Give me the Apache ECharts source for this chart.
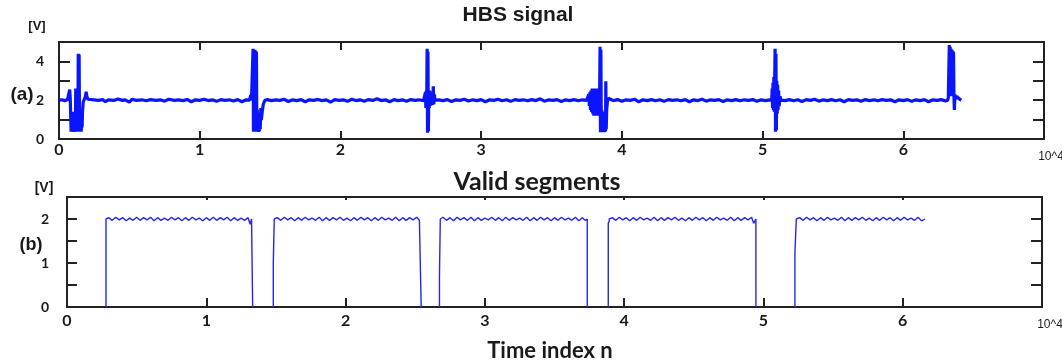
<!DOCTYPE html>
<html>
<head>
<meta charset="utf-8">
<script src="https://cdn.jsdelivr.net/npm/echarts@6/dist/echarts.min.js"></script>
<style>
html,body{margin:0;padding:0;background:#fff;}
#chart{width:1062px;height:364px;}
</style>
</head>
<body>
<div id="chart"></div>
<script>
// ---- Data (x in units of 10^4 samples, y in volts) ----
const xTickLabels = ['0','1','2','3','4','5','6'];
const xExponentLabel = '10^4';

// (a) HBS signal
const hbsSignal = [
  [0,2.0],[0.02,2.02],[0.04,1.98],[0.06,2.02],[0.07,2.0],
  [0.076,2.55],[0.080,2.1],[0.083,1.2],[0.086,0.37],[0.089,1.1],[0.092,0.37],[0.095,1.4],[0.098,0.37],[0.101,0.9],
  [0.104,0.37],[0.107,1.3],[0.110,0.37],[0.113,1.0],[0.116,0.37],[0.119,2.6],[0.122,0.37],[0.125,1.4],[0.128,0.37],
  [0.131,1.1],[0.134,0.37],[0.137,4.4],[0.140,0.4],[0.143,4.35],[0.146,0.37],[0.149,1.2],[0.152,0.37],[0.155,1.5],
  [0.158,0.37],[0.161,1.3],[0.164,0.6],[0.167,1.4],[0.172,1.9],[0.180,2.05],[0.188,2.2],[0.193,2.43],[0.198,2.2],
  [0.205,2.05],[0.215,2.0],
  [0.25,2.02],[0.28,1.99],[0.31,2.03],[0.33,1.92],[0.35,2.02],[0.39,1.99],[0.42,2.06],[0.45,1.99],[0.47,2.02],[0.50,1.9],
  [0.52,2.05],[0.55,1.99],[0.59,2.02],[0.62,1.97],[0.65,2.03],[0.69,1.99],[0.72,2.02],[0.75,1.95],[0.78,2.05],[0.82,1.99],
  [0.85,2.02],[0.88,1.98],[0.91,2.04],[0.94,1.92],[0.97,2.02],[1.00,1.99],[1.03,2.05],[1.06,1.98],[1.09,2.02],[1.12,1.94],
  [1.15,2.03],[1.18,1.99],[1.21,2.02],[1.24,1.96],[1.27,2.03],[1.30,1.92],[1.33,2.02],[1.355,2.0],
  [1.362,2.26],[1.368,2.0],[1.374,2.1],[1.379,4.65],[1.382,0.37],[1.385,4.6],[1.388,0.37],[1.391,4.6],[1.394,0.37],
  [1.397,4.55],[1.400,0.37],[1.403,4.5],[1.406,0.37],[1.409,1.5],[1.412,0.37],[1.415,1.0],[1.418,0.37],[1.421,1.3],
  [1.424,0.4],[1.427,0.9],[1.430,0.5],[1.434,1.6],[1.438,0.97],[1.444,1.4],[1.452,1.8],[1.464,2.0],[1.48,2.03],
  [1.51,1.98],[1.54,2.02],[1.57,1.99],[1.60,2.05],[1.63,1.93],[1.66,2.02],[1.69,1.98],[1.72,2.03],[1.75,1.92],[1.78,2.02],
  [1.81,1.99],[1.84,2.04],[1.87,1.98],[1.90,2.02],[1.93,1.9],[1.96,2.03],[1.99,1.99],[2.02,2.02],[2.05,1.94],[2.08,2.05],
  [2.11,1.98],[2.14,2.02],[2.17,1.95],[2.20,2.03],[2.23,1.99],[2.26,2.07],[2.29,1.98],[2.32,2.02],[2.35,1.92],[2.38,2.03],
  [2.41,1.98],[2.44,2.02],[2.47,1.95],[2.50,2.03],[2.53,1.99],[2.56,2.02],[2.59,1.97],[2.60,2.0],
  [2.604,2.4],[2.607,1.6],[2.610,2.5],[2.613,1.7],[2.616,4.65],[2.619,0.32],[2.622,4.5],[2.625,0.4],[2.628,2.4],
  [2.631,1.6],[2.634,2.5],[2.637,1.7],[2.641,2.3],[2.645,1.8],[2.650,2.4],[2.655,1.75],[2.660,2.72],[2.664,1.8],
  [2.668,2.3],[2.672,2.0],
  [2.70,2.02],[2.73,1.98],[2.76,2.03],[2.79,1.93],[2.82,2.02],[2.85,1.99],[2.88,2.05],[2.91,1.96],[2.94,2.02],[2.97,1.98],
  [3.00,2.03],[3.03,1.92],[3.06,2.02],[3.09,1.99],[3.12,2.05],[3.15,1.97],[3.18,2.02],[3.21,1.94],[3.24,2.03],[3.27,1.99],
  [3.30,2.02],[3.33,1.97],[3.36,2.03],[3.39,1.98],[3.42,2.07],[3.45,1.95],[3.48,2.02],[3.51,1.99],[3.54,2.03],[3.57,1.93],
  [3.60,2.02],[3.63,1.98],[3.66,2.03],[3.69,1.97],[3.72,2.02],[3.75,1.99],[3.76,2.0],
  [3.765,2.3],[3.769,1.7],[3.773,2.4],[3.777,1.5],[3.781,2.5],[3.785,1.4],[3.789,2.6],[3.793,1.3],[3.797,2.5],
  [3.801,1.2],[3.805,2.6],[3.809,1.25],[3.813,2.5],[3.817,1.2],[3.821,2.6],[3.825,1.3],[3.829,2.4],[3.833,1.2],
  [3.837,2.3],[3.841,1.5],[3.845,4.75],[3.848,0.35],[3.851,4.6],[3.854,0.35],[3.857,1.5],[3.860,0.35],[3.863,1.2],
  [3.866,0.35],[3.869,1.4],[3.872,0.35],[3.875,1.0],[3.878,0.35],[3.881,1.3],[3.884,0.4],[3.886,2.97],[3.889,0.5],
  [3.892,1.5],[3.897,1.9],[3.905,2.1],[3.916,2.0],
  [3.94,1.98],[3.97,2.03],[4.00,1.95],[4.03,2.02],[4.06,1.99],[4.09,2.05],[4.12,1.92],[4.15,2.02],[4.18,1.98],[4.21,2.03],
  [4.24,1.97],[4.27,2.02],[4.30,1.94],[4.33,2.03],[4.36,1.99],[4.39,2.02],[4.42,1.97],[4.45,2.03],[4.48,1.92],[4.51,2.02],
  [4.54,1.98],[4.57,2.05],[4.60,1.95],[4.63,2.02],[4.66,1.99],[4.69,2.03],[4.72,1.93],[4.75,2.02],[4.78,1.98],[4.81,2.03],
  [4.84,1.97],[4.87,2.02],[4.90,1.99],[4.93,2.03],[4.96,1.95],[4.99,2.02],[5.02,1.98],[5.05,2.02],[5.065,2.0],
  [5.068,2.6],[5.071,1.6],[5.074,2.9],[5.077,1.5],[5.080,3.2],[5.083,1.4],[5.086,3.0],[5.089,4.65],[5.092,0.37],
  [5.095,4.4],[5.098,0.45],[5.101,3.0],[5.104,1.3],[5.107,2.8],[5.110,1.5],[5.114,2.5],[5.118,1.7],[5.124,2.2],[5.13,2.0],
  [5.16,1.98],[5.19,2.03],[5.22,1.97],[5.25,2.02],[5.28,1.93],[5.31,2.03],[5.34,1.99],[5.37,2.05],[5.40,1.95],[5.43,2.02],
  [5.46,1.98],[5.49,2.03],[5.52,1.97],[5.55,2.02],[5.58,1.92],[5.61,2.03],[5.64,1.99],[5.67,2.02],[5.70,1.95],[5.73,2.03],
  [5.76,1.98],[5.79,2.02],[5.82,1.97],[5.85,2.03],[5.88,1.99],[5.91,2.02],[5.94,1.92],[5.97,2.02],[6.00,1.98],[6.03,2.03],
  [6.06,1.94],[6.09,2.02],[6.12,1.98],[6.15,2.03],[6.18,1.92],[6.21,2.02],[6.24,1.99],[6.27,2.03],[6.30,1.96],[6.315,2.0],
  [6.320,2.12],
  [6.324,2.2],[6.327,4.85],[6.330,2.3],[6.333,4.75],[6.336,2.2],[6.339,4.65],[6.342,2.3],[6.345,4.6],[6.348,2.2],
  [6.351,4.55],[6.354,2.3],[6.357,4.5],[6.360,2.2],[6.363,1.5],[6.367,2.3],[6.372,2.05],[6.38,2.2],[6.39,2.1],
  [6.40,2.05],[6.413,2.0]
];

// (b) Valid segments, one list per segment
const validSeg1 = [
  [0.28,0],[0.28,2.0],[0.30,2.03],[0.325,1.97],[0.35,2.04],[0.375,1.98],[0.40,2.03],[0.425,1.96],[0.45,2.02],[0.475,1.97],
  [0.50,2.04],[0.525,1.97],[0.55,2.03],[0.575,1.98],[0.60,2.04],[0.625,1.96],[0.65,2.03],[0.675,1.97],[0.70,2.02],[0.725,1.97],
  [0.75,2.04],[0.775,1.98],[0.80,2.03],[0.825,1.96],[0.85,2.03],[0.875,1.97],[0.90,2.04],[0.925,1.98],[0.95,2.02],[0.975,1.96],
  [1.00,2.03],[1.025,1.97],[1.05,2.04],[1.075,1.97],[1.10,2.03],[1.125,1.98],[1.15,2.04],[1.175,1.96],[1.20,2.03],[1.225,1.97],
  [1.25,2.02],[1.275,1.97],[1.30,2.03],[1.315,1.88],[1.325,2.0],[1.333,2.0],[1.333,0]
];
const validSeg2 = [
  [1.481,0],[1.481,0.99],[1.488,1.0],[1.488,2.0],[1.51,2.03],[1.535,1.97],[1.56,2.04],[1.585,1.98],[1.61,2.03],[1.635,1.96],
  [1.66,2.03],[1.685,1.97],[1.71,2.04],[1.735,1.98],[1.76,2.02],[1.785,1.97],[1.81,2.04],[1.835,1.96],[1.86,2.03],[1.885,1.97],
  [1.91,2.03],[1.935,1.98],[1.96,2.04],[1.985,1.97],[2.01,2.02],[2.035,1.96],[2.06,2.03],[2.085,1.97],[2.11,2.04],[2.135,1.98],
  [2.16,2.03],[2.185,1.96],[2.21,2.03],[2.235,1.97],[2.26,2.04],[2.285,1.98],[2.31,2.02],[2.335,1.97],[2.36,2.04],[2.385,1.96],
  [2.41,2.03],[2.435,1.97],[2.46,2.03],[2.485,1.98],[2.51,2.04],[2.53,1.97],[2.543,2.0],[2.543,0]
];
const validSeg3 = [
  [2.674,0],[2.674,0.66],[2.680,0.7],[2.680,2.0],[2.70,2.04],[2.725,1.97],[2.75,2.03],[2.775,1.96],[2.80,2.04],[2.825,1.98],
  [2.85,2.03],[2.875,1.97],[2.90,2.04],[2.925,1.96],[2.95,2.03],[2.975,1.97],[3.00,2.02],[3.025,1.98],[3.05,2.04],[3.075,1.97],
  [3.10,2.03],[3.125,1.96],[3.15,2.04],[3.175,1.97],[3.20,2.03],[3.225,1.98],[3.25,2.02],[3.275,1.97],[3.30,2.04],[3.325,1.96],
  [3.35,2.03],[3.375,1.97],[3.40,2.04],[3.425,1.98],[3.45,2.03],[3.475,1.96],[3.50,2.03],[3.525,1.97],[3.55,2.04],[3.575,1.98],
  [3.60,2.02],[3.625,1.97],[3.65,2.04],[3.675,1.96],[3.70,2.03],[3.72,1.97],[3.735,2.0],[3.735,0]
];
const validSeg4 = [
  [3.886,0],[3.886,1.9],[3.893,1.95],[3.893,2.0],[3.915,2.03],[3.94,1.97],[3.965,2.04],[3.99,1.98],[4.015,2.03],[4.04,1.96],
  [4.065,2.03],[4.09,1.97],[4.115,2.04],[4.14,1.98],[4.165,2.02],[4.19,1.97],[4.215,2.04],[4.24,1.96],[4.265,2.03],[4.29,1.97],
  [4.315,2.03],[4.34,1.98],[4.365,2.04],[4.39,1.97],[4.415,2.02],[4.44,1.96],[4.465,2.03],[4.49,1.97],[4.515,2.04],[4.54,1.98],
  [4.565,2.03],[4.59,1.96],[4.615,2.03],[4.64,1.97],[4.665,2.04],[4.69,1.98],[4.715,2.02],[4.74,1.97],[4.765,2.04],[4.79,1.96],
  [4.815,2.03],[4.84,1.97],[4.865,2.03],[4.89,1.98],[4.915,2.04],[4.93,1.9],[4.946,2.0],[4.946,0]
];
const validSeg5 = [
  [5.226,0],[5.226,1.22],[5.236,1.25],[5.236,2.0],[5.26,2.03],[5.285,1.97],[5.31,2.04],[5.335,1.98],[5.36,2.03],[5.385,1.96],
  [5.41,2.03],[5.435,1.97],[5.46,2.04],[5.485,1.98],[5.51,2.02],[5.535,1.97],[5.56,2.04],[5.585,1.96],[5.61,2.03],[5.635,1.97],
  [5.66,2.03],[5.685,1.98],[5.71,2.04],[5.735,1.97],[5.76,2.02],[5.785,1.96],[5.81,2.03],[5.835,1.97],[5.86,2.04],[5.885,1.98],
  [5.91,2.03],[5.935,1.96],[5.96,2.03],[5.985,1.97],[6.01,2.04],[6.035,1.98],[6.06,2.02],[6.085,1.97],[6.11,2.04],[6.135,1.96],
  [6.16,2.0]
];
const validSegments = [validSeg1, validSeg2, validSeg3, validSeg4, validSeg5];

// ---- Chart ----
const chart = echarts.init(document.getElementById('chart'), null, {renderer: 'canvas'});
const ink = '#1a1a1a';
const frame = {show: true, onZero: false, lineStyle: {color: '#222', width: 2}};
const labelFont = 'Lato';

function xAxisDef(gridIndex, position, showLabels, tickLen, labelMargin) {
  return {
    type: 'value', gridIndex: gridIndex, position: position,
    min: 0, max: 7, interval: 1,
    axisLine: frame,
    axisTick: {show: true, inside: true, length: tickLen, lineStyle: {color: '#222', width: 2}},
    axisLabel: {
      show: showLabels, margin: labelMargin, color: ink, fontSize: 16, fontWeight: 'bold', fontFamily: labelFont,
      showMinLabel: true, showMaxLabel: true,
      formatter: function (v) { return v < xTickLabels.length ? xTickLabels[v] : ''; }
    },
    splitLine: {show: false}
  };
}
function yAxisDef(gridIndex, position, max, interval, showLabels, tickLen, labelMargin, labelStep) {
  return {
    type: 'value', gridIndex: gridIndex, position: position,
    min: 0, max: max, interval: interval,
    axisLine: frame,
    axisTick: {show: true, inside: true, length: tickLen, lineStyle: {color: '#222', width: 2}},
    axisLabel: {
      show: showLabels, margin: labelMargin, color: ink, fontSize: 14, fontWeight: 'bold', fontFamily: labelFont,
      formatter: function (v) { return Math.abs(v / labelStep - Math.round(v / labelStep)) < 1e-6 ? String(v) : ''; }
    },
    splitLine: {show: false}
  };
}

const series = [{
  type: 'line', xAxisIndex: 0, yAxisIndex: 0, data: hbsSignal,
  showSymbol: false, symbol: 'none', animation: false,
  lineStyle: {color: '#0a14ff', width: 3.2}
}];
validSegments.forEach(function (seg) {
  series.push({
    type: 'line', xAxisIndex: 2, yAxisIndex: 2, data: seg,
    showSymbol: false, symbol: 'none', animation: false,
    lineStyle: {color: '#2626f0', width: 1.4}
  });
});

const option = {
  animation: false,
  backgroundColor: '#ffffff',
  grid: [
    {left: 59, right: 18, top: 42, height: 97},
    {left: 67, right: 20, top: 197, height: 110}
  ],
  xAxis: [
    xAxisDef(0, 'bottom', true, 8, 3),
    xAxisDef(0, 'top', false, 8, 3),
    xAxisDef(1, 'bottom', true, 9, 6),
    xAxisDef(1, 'top', false, 3, 3)
  ],
  yAxis: [
    yAxisDef(0, 'left', 5, 1, true, 11, 15, 2),
    yAxisDef(0, 'right', 5, 1, false, 11, 3, 2),
    yAxisDef(1, 'left', 2.5, 0.5, true, 10, 18, 1),
    yAxisDef(1, 'right', 2.5, 0.5, false, 11, 3, 1)
  ],
  series: series,
  graphic: [
    {type: 'text', x: 518, y: 15, style: {text: 'HBS signal', font: 'bold 21px "Liberation Sans"', fill: ink, align: 'center', verticalAlign: 'middle'}},
    {type: 'text', x: 537, y: 182, style: {text: 'Valid segments', font: 'bold 25px Lato', fill: ink, align: 'center', verticalAlign: 'middle'}},
    {type: 'text', x: 550, y: 351, style: {text: 'Time index n', font: 'bold 22px Lato', fill: ink, align: 'center', verticalAlign: 'middle'}},
    {type: 'text', x: 37, y: 26, style: {text: '[V]', font: 'bold 13px "Liberation Sans"', fill: ink, align: 'center', verticalAlign: 'middle'}},
    {type: 'text', x: 44, y: 188, style: {text: '[V]', font: 'bold 14px "Liberation Sans"', fill: ink, align: 'center', verticalAlign: 'middle'}},
    {type: 'text', x: 22, y: 95, style: {text: '(a)', font: 'bold 19px "Liberation Sans"', fill: ink, align: 'center', verticalAlign: 'middle'}},
    {type: 'text', x: 31, y: 245, style: {text: '(b)', font: 'bold 18px "Liberation Sans"', fill: ink, align: 'center', verticalAlign: 'middle'}},
    {type: 'text', x: 1051, y: 157, style: {text: xExponentLabel, font: '12px "Liberation Sans"', fill: ink, align: 'center', verticalAlign: 'middle'}},
    {type: 'text', x: 1050, y: 325, style: {text: xExponentLabel, font: '12px "Liberation Sans"', fill: ink, align: 'center', verticalAlign: 'middle'}}
  ]
};
chart.setOption(option);
</script>
</body>
</html>
